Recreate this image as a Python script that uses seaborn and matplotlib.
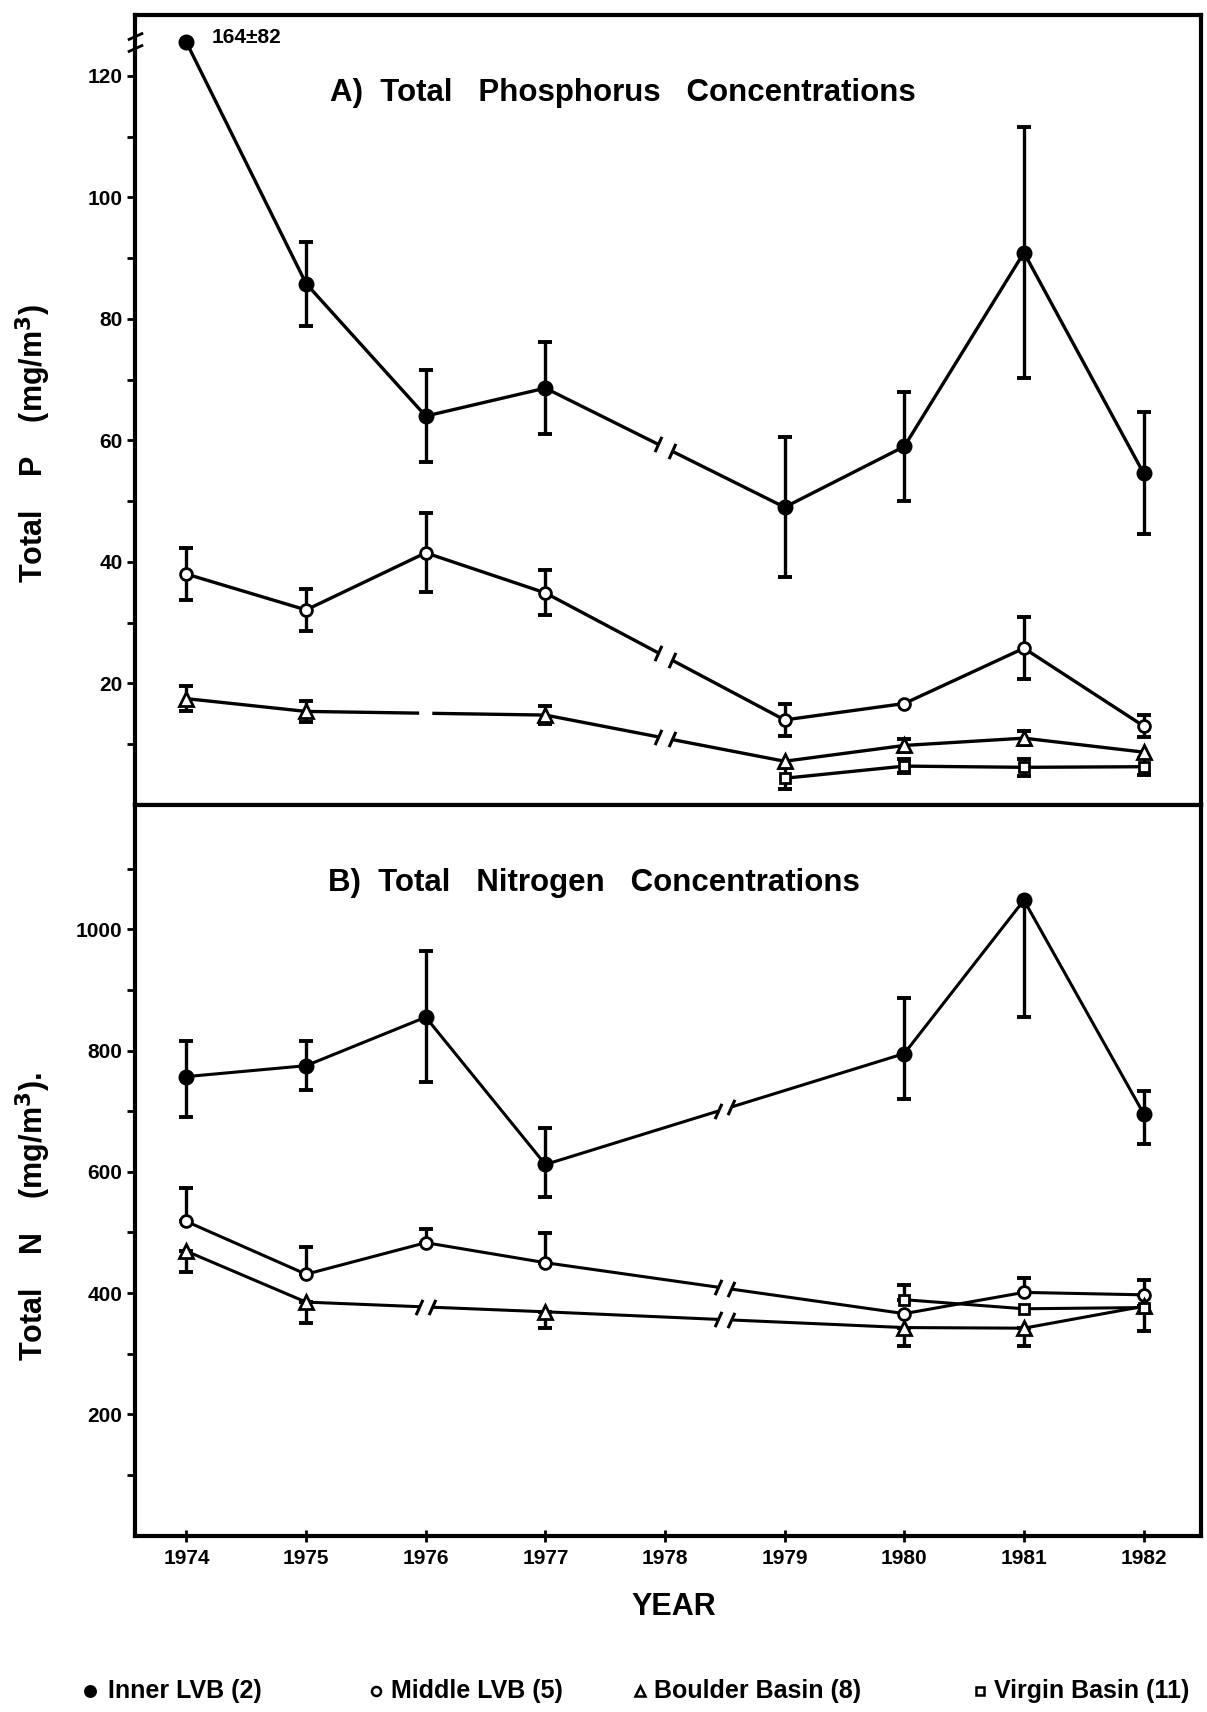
import numpy as np
import pandas as pd
import matplotlib
matplotlib.use("Agg")
import matplotlib.pyplot as plt
import matplotlib.transforms as mtransforms
from matplotlib.lines import Line2D
from matplotlib.path import Path
import seaborn as sns

nan = np.nan
years = [1974, 1975, 1976, 1977, 1978, 1979, 1980, 1981, 1982]
series_labels = ["Inner LVB (2)", "Middle LVB (5)", "Boulder Basin (8)", "Virgin Basin (11)"]

# ---- A) Total phosphorus (mg/m3); 1974 Inner LVB plotted on the axis break (true value 164 +/- 82)
inner_p = [125.5, 85.8, 64.0, 68.6, nan, 49.0, 59.0, 90.9, 54.6]
inner_p_err = [0, 6.9, 7.5, 7.6, nan, 11.5, 8.9, 20.7, 10.0]
middle_p = [38.0, 32.1, 41.5, 34.9, nan, 14.0, 16.7, 25.8, 13.0]
middle_p_err = [4.3, 3.4, 6.5, 3.7, nan, 2.6, 0, 5.1, 1.8]
boulder_p = [17.5, 15.4, nan, 14.8, nan, 7.2, 9.8, 11.0, 8.7]
boulder_p_err = [2.0, 1.7, nan, 1.5, nan, 0, 1.1, 1.1, 0]
virgin_p = [nan, nan, nan, nan, nan, 4.4, 6.4, 6.2, 6.3]
virgin_p_err = [nan, nan, nan, nan, nan, 1.7, 1.2, 1.4, 1.4]
inner_p_1974_label = "164\u00b182"

# ---- B) Total nitrogen (mg/m3); lower / upper error bar halves
inner_n = [757, 775, 855, 612, nan, nan, 795, 1048, 696]
inner_n_lo = [67, 40, 107, 53, nan, nan, 75, 193, 51]
inner_n_hi = [59, 41, 109, 60, nan, nan, 91, 0, 38]
middle_n = [518, 431, 483, 450, nan, nan, 366, 401, 397]
middle_n_lo = [0, 0, 0, 0, nan, nan, 0, 0, 0]
middle_n_hi = [55, 45, 23, 49, nan, nan, 0, 24, 25]
boulder_n = [469, 385, nan, 369, nan, nan, 343, 342, 378]
boulder_n_lo = [35, 34, nan, 27, nan, nan, 31, 29, 40]
boulder_n_hi = [0, 0, nan, 0, nan, nan, 0, 0, 0]
virgin_n = [nan, nan, nan, nan, nan, nan, 389, 374, 376]
virgin_n_lo = [nan, nan, nan, nan, nan, nan, 0, 0, 0]
virgin_n_hi = [nan, nan, nan, nan, nan, nan, 25, 0, 0]

# ---------------------------------------------------------------- style
sns.set_style("ticks")
FONT = ["Liberation Sans", "DejaVu Sans"]
plt.rcParams["font.family"] = FONT
plt.rcParams["font.weight"] = "bold"
for k in ("text.color", "axes.labelcolor", "xtick.color", "ytick.color", "axes.edgecolor"):
    plt.rcParams[k] = "black"

W, H = 1207, 1712
fig = plt.figure(figsize=(W / 100, H / 100), dpi=100)

L, R = 135, 1201
TOP, MID, BOT = 15, 805, 1535.5
ax_p = fig.add_axes([L / W, 1 - MID / H, (R - L) / W, (MID - TOP) / H])
ax_n = fig.add_axes([L / W, 1 - BOT / H, (R - L) / W, (BOT - MID) / H])

XLIM = (1973.57, 1982.48)
GAP = 0.11
SLASH = Path([(-0.45, -1.0), (0.45, 1.0)], [Path.MOVETO, Path.LINETO])
HSLASH = Path([(-1.0, -0.45), (1.0, 0.45)], [Path.MOVETO, Path.LINETO])

styles = {
    "inner": dict(marker="o", ms=9.5, face="black"),
    "middle": dict(marker="o", ms=8.5, face="white"),
    "boulder": dict(marker="^", ms=9.5, face="white"),
    "virgin": dict(marker="s", ms=7.5, face="white"),
}


def draw_series(ax, y, lo, hi, key, breaks, lw=2.4):
    st = styles[key]
    df = pd.DataFrame({"year": years, "value": y}).dropna()
    sns.lineplot(data=df, x="year", y="value", ax=ax, color="black", lw=lw,
                 marker=st["marker"], markersize=st["ms"],
                 markerfacecolor=st["face"], markeredgecolor="black",
                 markeredgewidth=2.0, estimator=None, errorbar=None,
                 sort=True, zorder=3, legend=False)
    e = pd.DataFrame({"year": years, "value": y, "lo": lo, "hi": hi}).dropna()
    e = e[(e["lo"] > 0) | (e["hi"] > 0)]
    if len(e):
        ax.errorbar(e["year"], e["value"], yerr=[e["lo"], e["hi"]], fmt="none",
                    ecolor="black", elinewidth=2.4, capsize=4.8, capthick=2.8,
                    zorder=2)
    xs, ys = df["year"].values, df["value"].values
    for bx, kind in breaks:
        xa, xb = bx - GAP / 2, bx + GAP / 2
        ya, yb = np.interp([xa, xb], xs, ys)
        ax.plot([xa, xb], [ya, yb], color="white", lw=lw + 4,
                solid_capstyle="butt", zorder=3.5)
        if kind == "slash":
            ax.plot([xa, xb], [ya, yb], ls="none", marker=SLASH, ms=11,
                    mfc="none", mec="black", mew=2.2, zorder=3.6)


# ---- panel A
p_breaks = {"inner": [(1978.0, "slash")], "middle": [(1978.0, "slash")],
            "boulder": [(1976.0, "gap"), (1978.0, "slash")], "virgin": []}
draw_series(ax_p, inner_p, inner_p_err, inner_p_err, "inner", p_breaks["inner"])
draw_series(ax_p, middle_p, middle_p_err, middle_p_err, "middle", p_breaks["middle"])
draw_series(ax_p, boulder_p, boulder_p_err, boulder_p_err, "boulder", p_breaks["boulder"])
draw_series(ax_p, virgin_p, virgin_p_err, virgin_p_err, "virgin", p_breaks["virgin"])

# ---- panel B
n_breaks = {"inner": [(1978.5, "slash")], "middle": [(1978.5, "slash")],
            "boulder": [(1976.0, "slash"), (1978.5, "slash")], "virgin": []}
draw_series(ax_n, inner_n, inner_n_lo, inner_n_hi, "inner", n_breaks["inner"], lw=2.2)
draw_series(ax_n, middle_n, middle_n_lo, middle_n_hi, "middle", n_breaks["middle"], lw=2.2)
draw_series(ax_n, boulder_n, boulder_n_lo, boulder_n_hi, "boulder", n_breaks["boulder"], lw=2.2)
draw_series(ax_n, virgin_n, virgin_n_lo, virgin_n_hi, "virgin", n_breaks["virgin"], lw=2.2)

# ---- axes cosmetics
for ax in (ax_p, ax_n):
    ax.set_xlim(*XLIM)
    for s in ax.spines.values():
        s.set_visible(True)
        s.set_linewidth(3.0)
        s.set_color("black")
    ax.set_xlabel("")
    ax.set_ylabel("")
    ax.tick_params(axis="y", which="both", direction="out", length=6, width=2.0,
                   labelsize=15, pad=3)

ax_p.set_ylim(0, 130)
ax_p.set_yticks([20, 40, 60, 80, 100, 120])
ax_p.set_yticks([10, 30, 50, 70, 90, 110], minor=True)
ax_p.tick_params(axis="x", which="both", bottom=False, labelbottom=False)

ax_n.set_ylim(0, 1205)
ax_n.set_yticks([200, 400, 600, 800, 1000])
ax_n.set_yticks([100, 300, 500, 700, 900, 1100], minor=True)
ax_n.set_xticks(years)
ax_n.set_xticklabels([str(y) for y in years])
ax_n.tick_params(axis="x", direction="inout", length=8, width=2.0, labelsize=15, pad=6)

for ax in (ax_p, ax_n):
    for lab in ax.get_xticklabels() + ax.get_yticklabels():
        lab.set_fontweight("bold")

# y-axis break symbol on panel A
btr = mtransforms.blended_transform_factory(ax_p.transAxes, ax_p.transData)
ax_p.plot([0, 0], [124.6, 126.6], transform=btr, ls="none", marker=HSLASH, ms=11,
          mfc="none", mec="black", mew=2.0, clip_on=False, zorder=5)

ax_p.text(0.072, 0.972, inner_p_1974_label, transform=ax_p.transAxes, fontsize=15,
          fontweight="bold", va="center", ha="left")
ax_p.text(0.183, 0.901, "A)  Total   Phosphorus   Concentrations", transform=ax_p.transAxes,
          fontsize=22.5, fontweight="bold", va="center", ha="left")
ax_n.text(0.181, 0.893, "B)  Total   Nitrogen   Concentrations", transform=ax_n.transAxes,
          fontsize=22.5, fontweight="bold", va="center", ha="left")

fig.text(33 / W, 1 - 443 / H, "Total    P    (mg/m$^\\mathbf{3}$)", rotation=90, ha="center",
         va="center", fontsize=22, fontweight="bold")
fig.text(33 / W, 1 - 1217 / H, "Total    N    (mg/m$^\\mathbf{3}$).", rotation=90, ha="center",
         va="center", fontsize=22, fontweight="bold")
fig.text(674 / W, 1 - 1607 / H, "YEAR", ha="center", va="center", fontsize=22,
         fontweight="bold")

# ---- legend row
leg_y = 1 - 1691 / H
leg_items = [("inner", 90, 108), ("middle", 376, 391), ("boulder", 640, 654), ("virgin", 980, 994)]
for (key, mx, tx), lab in zip(leg_items, series_labels):
    st = styles[key]
    fig.add_artist(Line2D([mx / W], [leg_y], marker=st["marker"], ms=st["ms"] - 2,
                          mfc=st["face"], mec="black", mew=1.8, ls="none",
                          transform=fig.transFigure))
    fig.text(tx / W, leg_y, lab, ha="left", va="center", fontsize=18, fontweight="bold")

fig.savefig("out.png", dpi=100)
